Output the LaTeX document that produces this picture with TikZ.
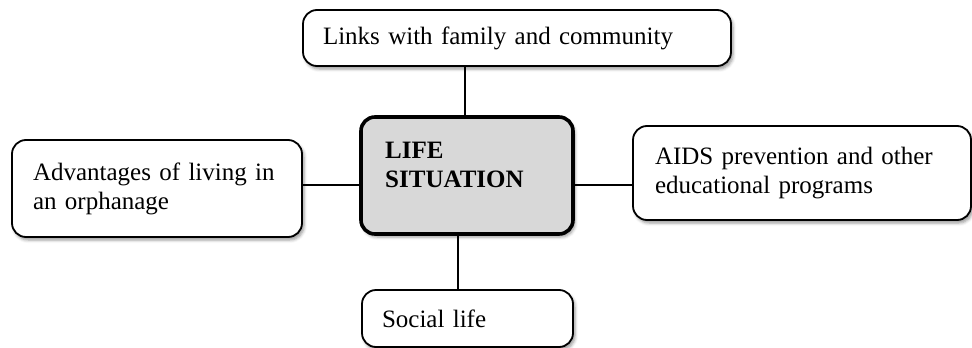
\documentclass[tikz,border=0pt]{standalone}
\usepackage{fontspec}
\setmainfont{Liberation Serif}
\usetikzlibrary{shadows.blur}
\definecolor{hubfill}{RGB}{216,216,216}
\begin{document}
\begin{tikzpicture}[x=1pt,y=-1pt,
  card/.style={draw=black, line width=1.8pt, rounded corners=14pt, fill=white,
    blur shadow={shadow xshift=2pt, shadow yshift=-3pt, shadow blur radius=3pt, shadow opacity=40},
    inner ysep=0pt, align=left, font=\fontsize{25}{29}\selectfont},
  hubbox/.style={card, line width=3.6pt, fill=hubfill},
  hubtext/.style={inner sep=0pt, align=left, font=\fontsize{25}{29}\selectfont\bfseries},
  link/.style={draw=black, line width=1.8pt}
]
\useasboundingbox (0,0) rectangle (972,348);

% central box and its caption
\node[hubbox, minimum width=212pt, minimum height=117pt] (hub) at (467,175.5) {};
\node[hubtext, anchor=north west] (hubcap) at (385,141.5) {LIFE\\SITUATION};

% surrounding boxes
\node[card, minimum width=428pt, minimum height=56pt, text width=388pt, inner xsep=20pt]
  (family) at (517,38) {Links with family and community};
\node[card, minimum width=290pt, minimum height=97pt, text width=248pt, inner xsep=21pt]
  (orphan) at (157,188.5) {Advantages of living in\\an orphanage};
\node[card, minimum width=338pt, minimum height=94pt, text width=294pt, inner xsep=22pt]
  (aids) at (802,173) {AIDS prevention and other\\educational programs};
\node[card, minimum width=211pt, minimum height=57pt, text width=171pt, inner xsep=20pt]
  (social) at (467.5,318.5) {Social life};

% connectors
\draw[link] ([xshift=-52pt]family.south) -- ([xshift=-2pt]hub.north);
\draw[link] ([yshift=3.5pt]orphan.east) -- ([yshift=-9.5pt]hub.west);
\draw[link] ([yshift=-9.5pt]hub.east) -- ([yshift=-12pt]aids.west);
\draw[link] ([xshift=-9pt]hub.south) -- ([xshift=-9.5pt]social.north);
\end{tikzpicture}
\end{document}
